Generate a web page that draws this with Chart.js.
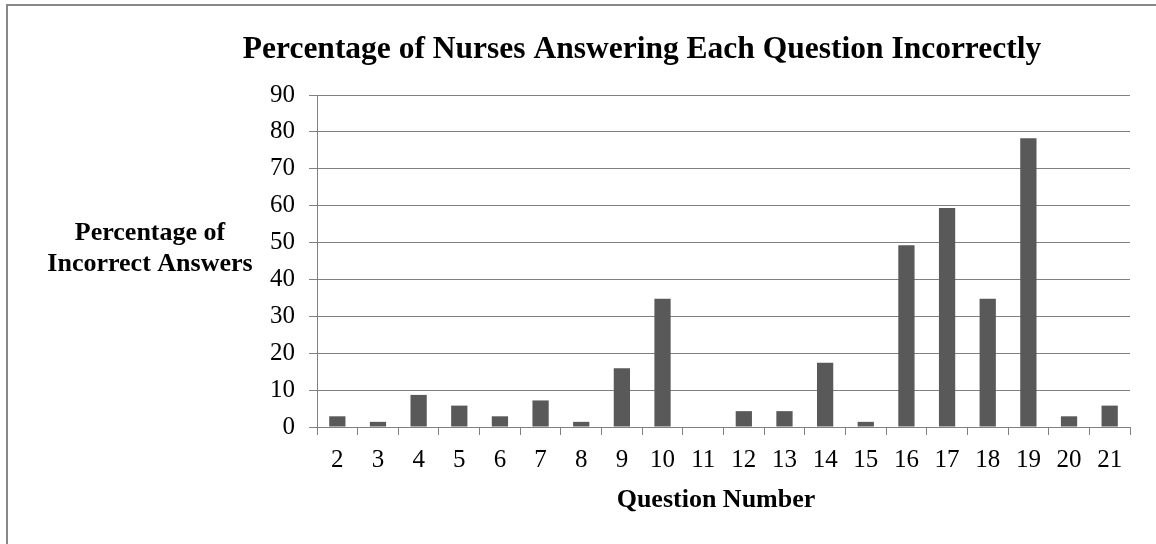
<!DOCTYPE html>
<html>
<head>
<meta charset="utf-8">
<script src="https://cdn.jsdelivr.net/npm/chart.js@4"></script>
<style>
  html, body { margin: 0; padding: 0; background: #fff; }
  #wrap { position: relative; width: 1156px; height: 544px; }
</style>
</head>
<body>
<div id="wrap"><canvas id="c" width="1156" height="544"></canvas></div>
<script>
const chartTitle = "Percentage of Nurses Answering Each Question Incorrectly";
const yTitleLines = ["Percentage of", "Incorrect Answers"];
const xTitle = "Question Number";
const questions = ["2","3","4","5","6","7","8","9","10","11","12","13","14","15","16","17","18","19","20","21"];
const pctIncorrect = [2.9, 1.4, 8.7, 5.8, 2.9, 7.2, 1.4, 15.9, 34.8, 0, 4.3, 4.3, 17.4, 1.4, 49.3, 59.4, 34.8, 78.3, 2.9, 5.8];
const yTicks = [0, 10, 20, 30, 40, 50, 60, 70, 80, 90];

const SERIF = "'Liberation Serif', 'Times New Roman', serif";
const GRID = "#808080";

const decor = {
  id: 'decor',
  beforeDraw(chart) {
    const ctx = chart.ctx;
    ctx.save();
    ctx.fillStyle = '#fff';
    ctx.fillRect(0, 0, chart.width, chart.height);
    ctx.strokeStyle = '#888';
    ctx.lineWidth = 2;
    ctx.beginPath();
    ctx.moveTo(7, 544);
    ctx.lineTo(7, 5);
    ctx.lineTo(1156, 5);
    ctx.stroke();
    ctx.restore();
  },
  afterDraw(chart) {
    const ctx = chart.ctx;
    ctx.save();
    ctx.fillStyle = '#000';
    ctx.textAlign = 'center';
    ctx.textBaseline = 'alphabetic';
    ctx.font = "bold 31.5px " + SERIF;
    ctx.fillText(chartTitle, 642, 58);
    ctx.font = "bold 26px " + SERIF;
    ctx.fillText(yTitleLines[0], 150, 240);
    ctx.fillText(yTitleLines[1], 150, 271);
    ctx.fillText(xTitle, 716, 507);
    ctx.restore();
  }
};

new Chart(document.getElementById('c'), {
  type: 'bar',
  data: {
    labels: questions,
    datasets: [{
      data: pctIncorrect,
      backgroundColor: '#595959',
      borderWidth: 0,
      barPercentage: 0.4,
      categoryPercentage: 1.0
    }]
  },
  options: {
    responsive: false,
    animation: false,
    devicePixelRatio: 1,
    layout: { padding: { left: 0, top: 95, right: 26, bottom: 0 } },
    plugins: { legend: { display: false }, tooltip: { enabled: false }, title: { display: false } },
    scales: {
      x: {
        afterFit(s) { s.height = 117; },
        grid: { display: true, drawOnChartArea: false, drawTicks: true, tickLength: 8, color: GRID, lineWidth: 1, offset: true },
        border: { color: GRID, width: 1 },
        ticks: { color: '#000', font: { family: SERIF, size: 25 }, padding: 10, maxRotation: 0, autoSkip: false }
      },
      y: {
        min: 0, max: 90,
        afterFit(s) { s.width = 317; },
        afterBuildTicks(s) { s.ticks = yTicks.map(v => ({ value: v })); },
        grid: { color: GRID, lineWidth: 1, drawTicks: true, tickLength: 8 },
        border: { color: GRID, width: 1 },
        ticks: { color: '#000', font: { family: SERIF, size: 25 }, padding: 14 }
      }
    }
  },
  plugins: [decor]
});
</script>
</body>
</html>
